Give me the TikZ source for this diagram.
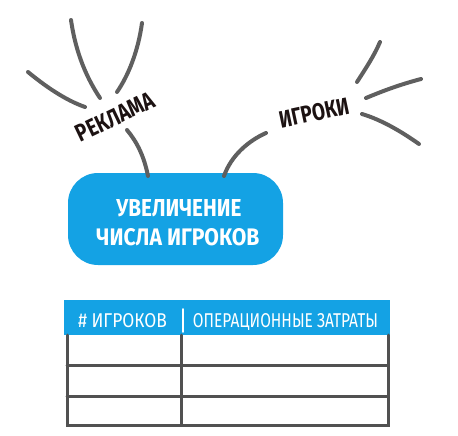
\documentclass[tikz,border=0pt]{standalone}
\usepackage{graphicx}
\usepackage{fontspec}
\newfontfamily\handfont{Fira Sans}
\definecolor{skyblue}{RGB}{20,162,228}
\definecolor{pencil}{RGB}{95,95,95}
\definecolor{inkblack}{RGB}{28,18,18}
\tikzset{
  spark/.style={draw=pencil, line width=4pt, line cap=round},
  grid line/.style={draw=pencil!85!black, line width=3pt, line cap=round},
  label text/.style={inner sep=0pt, text=inkblack, font=\handfont\bfseries},
  white text/.style={inner sep=0pt, text=white, font=\handfont\bfseries},
  head text/.style={inner sep=0pt, text=white, font=\handfont},
}
\begin{document}
\begin{tikzpicture}[x=1pt,y=-1pt]
\useasboundingbox (0,0) rectangle (458,436);
% labels
\node[label text, rotate=25.5] (rek) at (115,117) {\resizebox{84pt}{17pt}{РЕКЛАМА}};
\node[label text, rotate=12] (igr) at (314,113) {\resizebox{71pt}{17pt}{ИГРОКИ}};
% main box
\node[fill=skyblue, rounded corners=30pt, minimum width=215pt, minimum height=92pt, inner sep=0pt] (goal) at (175.5,219) {};
\node[white text, anchor=base] (g1) at (179,216.7) {\resizebox{125pt}{17pt}{УВЕЛИЧЕНИЕ}};
\node[white text, anchor=base] (g2) at (178,245) {\resizebox{163pt}{17pt}{ЧИСЛА ИГРОКОВ}};
% spark lines around РЕКЛАМА
\coordinate (r1a) at (71,20);  \coordinate (r1b) at (100,98);
\coordinate (r2a) at (142,23); \coordinate (r2b) at (117,92);
\coordinate (r3a) at (28,72);  \coordinate (r3b) at (85,107);
\coordinate (r4a) at (127,130); \coordinate (r4b) at (148,176);
\draw[spark] (r1a) .. controls (76,55) and (88,80) .. (r1b);
\draw[spark] (r2a) .. controls (138,52) and (128,76) .. (r2b);
\draw[spark] (r3a) .. controls (45,86) and (65,100) .. (r3b);
\draw[spark] (r4a) .. controls (137,142) and (144,156) .. (r4b);
% spark lines around ИГРОКИ
\coordinate (i1a) at (357,82);  \coordinate (i1b) at (380,42);
\coordinate (i2a) at (366,98);  \coordinate (i2b) at (421,79);
\coordinate (i3a) at (362,114); \coordinate (i3b) at (419,144);
\coordinate (i4a) at (266,133); \coordinate (i4b) at (224,176);
\draw[spark] (i1a) .. controls (366,68) and (374,56) .. (i1b);
\draw[spark] (i2a) .. controls (385,90) and (402,84) .. (i2b);
\draw[spark] (i3a) .. controls (382,120) and (402,132) .. (i3b);
\draw[spark] (i4a) .. controls (248,141) and (231,156) .. (i4b);
% table
\node[fill=skyblue, minimum width=326pt, minimum height=35pt, inner sep=0pt] (head) at (227,317.5) {};
\node[head text, anchor=base] (h1) at (122.5,327.7) {\resizebox{89pt}{14pt}{\# ИГРОКОВ}};
\node[head text, anchor=base] (h2) at (285.5,327.7) {\resizebox{185pt}{14pt}{ОПЕРАЦИОННЫЕ ЗАТРАТЫ}};
\coordinate (sepT) at (183,309); \coordinate (sepB) at (183,332);
\draw[white, line width=1.6pt, line cap=round] (sepT) -- (sepB);
\coordinate (tl) at (67,335); \coordinate (tr) at (388,335);
\coordinate (bl) at (67,425); \coordinate (br) at (388,425);
\coordinate (mt) at (181,335); \coordinate (mb) at (181,425);
\coordinate (l1) at (67,365); \coordinate (r1) at (388,365);
\coordinate (l2) at (67,396); \coordinate (r2) at (388,396);
\draw[grid line] (tl) -- (bl) -- (br) -- (tr);
\draw[grid line] (mt) -- (mb);
\draw[grid line] (l1) -- (r1);
\draw[grid line] (l2) -- (r2);
\end{tikzpicture}
\end{document}
